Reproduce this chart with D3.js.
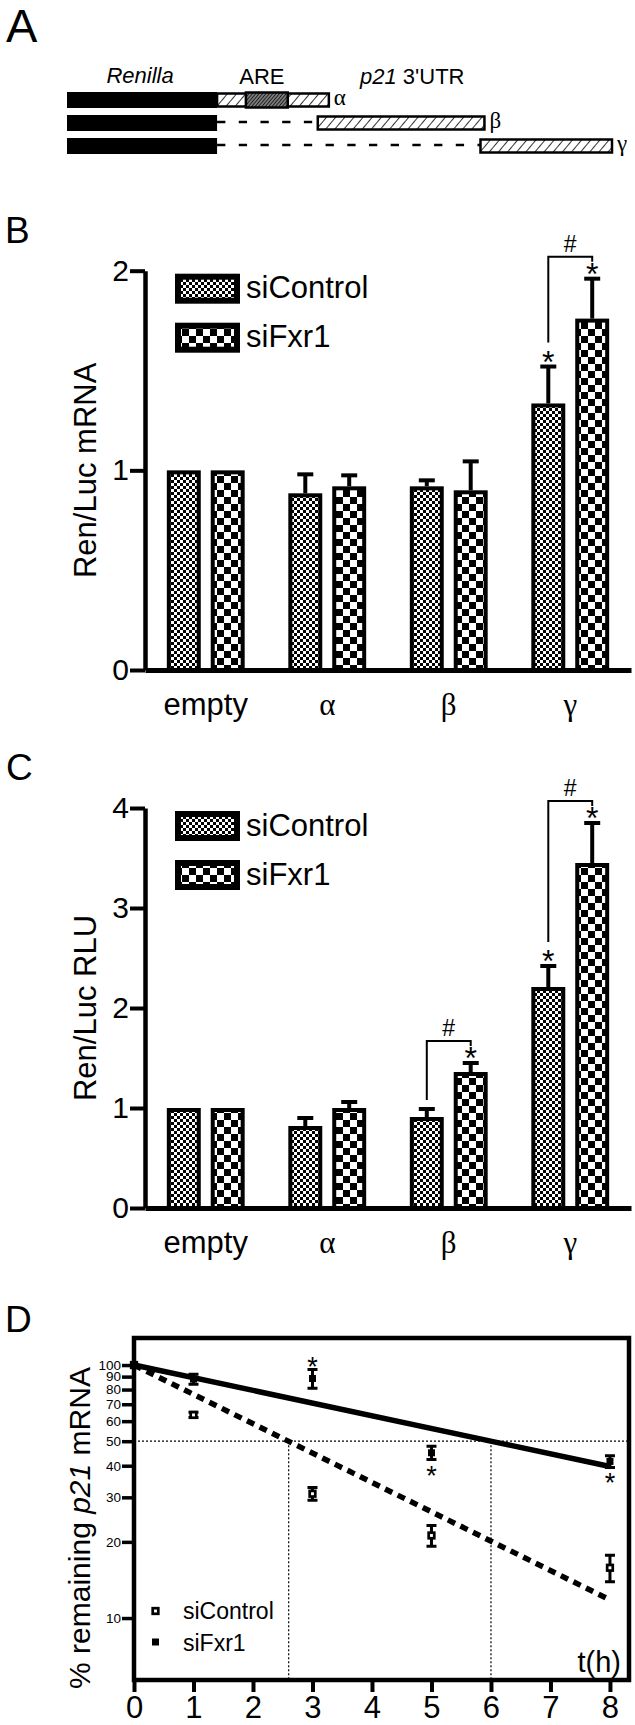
<!DOCTYPE html>
<html>
<head>
<meta charset="utf-8">
<title>p21 3'UTR reporters and mRNA decay</title>
<script src="https://cdn.jsdelivr.net/npm/d3@7"></script>
<style>
  body { margin: 0; background: #fff; }
  svg { display: block; background: #fff; }
</style>
</head>
<body>
<svg width="635" height="1725"></svg>
<script>
// ---------------- data ----------------
var categories = ["empty", "α", "β", "γ"];
var series = ["siControl", "siFxr1"];

// panel A: construct map (fraction of the p21 3'UTR; Renilla drawn left of 0)
var renillaSpan = [-0.38, 0];
var constructs = ["α", "β", "γ"];
var constructStart = [0, 0.255, 0.667];
var constructEnd = [0.283, 0.677, 1.0];
var areSpan = [0.073, 0.179];

// panel B: Ren/Luc mRNA
var mrnaTicks = [0, 1, 2];
var mrnaControl = [1.00, 0.885, 0.92, 1.335];
var mrnaControlSem = [0, 0.095, 0.03, 0.185];
var mrnaFxr1 = [1.00, 0.92, 0.90, 1.76];
var mrnaFxr1Sem = [0, 0.055, 0.145, 0.20];
var mrnaControlStar = [false, false, false, true];
var mrnaFxr1Star = [false, false, false, true];
var mrnaHash = [false, false, false, true];

// panel C: Ren/Luc RLU
var rluTicks = [0, 1, 2, 3, 4];
var rluControl = [1.00, 0.82, 0.91, 2.21];
var rluControlSem = [0, 0.08, 0.08, 0.21];
var rluFxr1 = [1.00, 1.00, 1.36, 3.45];
var rluFxr1Sem = [0, 0.06, 0.09, 0.40];
var rluControlStar = [false, false, false, true];
var rluFxr1Star = [false, false, true, true];
var rluHash = [false, false, true, true];

// panel D: % remaining p21 mRNA
var timePoints = [0, 1, 3, 5, 8];
var timeTicks = [0, 1, 2, 3, 4, 5, 6, 7, 8];
var decayTicks = [10, 20, 30, 40, 50, 60, 70, 80, 90, 100];
var decayControl = [100, 63.5, 31, 21.2, 15.8];
var decayControlSem = [0, 1.5, 1.8, 2, 1.9];
var decayFxr1 = [100, 88, 88.5, 45, 41.6];
var decayFxr1Sem = [0, 4, 7.5, 2.7, 2.2];
var decayFxr1Star = ["", "", "above", "below", "below"];
var fitControl = [[0, 100], [8, 11.8]];
var fitFxr1 = [[0, 100], [8, 39.7]];
var halfLives = [2.6, 6];

// ---------------- setup ----------------
var SANS = '"Liberation Sans", Arial, Helvetica, sans-serif';
var SERIF = '"Liberation Serif", "Times New Roman", serif';

var svg = d3.select("svg");
var defs = svg.append("defs");

function checker(id, cell)
{
    var p = defs.append("pattern").attr("id", id)
        .attr("patternUnits", "userSpaceOnUse")
        .attr("width", cell * 2).attr("height", cell * 2);
    p.append("rect").attr("width", cell * 2).attr("height", cell * 2).attr("fill", "#fff");
    p.append("rect").attr("x", cell).attr("width", cell).attr("height", cell).attr("fill", "#000");
    p.append("rect").attr("y", cell).attr("width", cell).attr("height", cell).attr("fill", "#000");
}

function hatch(id, gap, bg, fg, w)
{
    var p = defs.append("pattern").attr("id", id)
        .attr("patternUnits", "userSpaceOnUse")
        .attr("width", gap).attr("height", gap)
        .attr("patternTransform", "rotate(40)");
    p.append("rect").attr("width", gap).attr("height", gap).attr("fill", bg);
    p.append("line").attr("x1", gap / 2).attr("x2", gap / 2).attr("y1", -1).attr("y2", gap + 1)
        .attr("stroke", fg).attr("stroke-width", w);
}

checker("chkFine", 3);
checker("chkCoarse", 7);
hatch("hatchUtr", 7, "#fff", "#333", 1);
hatch("hatchAre", 2.6, "#8a8a8a", "#1a1a1a", 1.1);

var fills = { siControl: "url(#chkFine)", siFxr1: "url(#chkCoarse)" };

function txt(g, x, y, s, size, family)
{
    return g.append("text").attr("x", x).attr("y", y).text(s)
        .style("font-size", size + "px").style("font-family", family || SANS).attr("fill", "#000");
}

// panel letters
txt(svg, 6, 42, "A", 47);
txt(svg, 5, 243, "B", 37);
txt(svg, 6, 780, "C", 37);
txt(svg, 5, 1332, "D", 37);

// ---------------- panel A ----------------
(function ()
{
    var g = svg.append("g");
    var xA = d3.scaleLinear().domain([renillaSpan[0], 1]).range([67, 612]);
    var rowY = d3.scalePoint().domain(constructs).range([100, 146]);

    constructs.forEach(function (c, i)
    {
        var cy = rowY(c);
        g.append("rect").attr("x", xA(renillaSpan[0])).attr("y", cy - 8)
            .attr("width", xA(renillaSpan[1]) - xA(renillaSpan[0])).attr("height", 16).attr("fill", "#000");

        if (constructStart[i] > 0)
        {
            g.append("line").attr("x1", xA(0)).attr("x2", xA(constructStart[i]))
                .attr("y1", cy - 1).attr("y2", cy - 1)
                .attr("stroke", "#000").attr("stroke-width", 2.7).attr("stroke-dasharray", "8.3,13.4");
        }

        g.append("rect").attr("x", xA(constructStart[i])).attr("y", cy - 6.5)
            .attr("width", xA(constructEnd[i]) - xA(constructStart[i])).attr("height", 13)
            .attr("fill", "url(#hatchUtr)").attr("stroke", "#000").attr("stroke-width", 2.5);

        if (i === 0)
        {
            g.append("rect").attr("x", xA(areSpan[0])).attr("y", cy - 7.5)
                .attr("width", xA(areSpan[1]) - xA(areSpan[0])).attr("height", 15)
                .attr("fill", "url(#hatchAre)").attr("stroke", "#000").attr("stroke-width", 2.5);
        }

        txt(g, xA(constructEnd[i]) + 5, cy + 5, c, 23, SERIF);
    });

    txt(g, (xA(renillaSpan[0]) + xA(renillaSpan[1])) / 2 - 2, 83, "Renilla", 22)
        .attr("text-anchor", "middle").style("font-style", "italic");
    txt(g, (xA(areSpan[0]) + xA(areSpan[1])) / 2 - 5, 84, "ARE", 22).attr("text-anchor", "middle");
    var t = txt(g, 360, 84, "", 22);
    t.append("tspan").text("p21").style("font-style", "italic");
    t.append("tspan").text(" 3'UTR");
})();

// ---------------- panels B and C ----------------
function barPanel(cfg)
{
    var g = svg.append("g");
    var y = d3.scaleLinear().domain([0, cfg.max]).range([cfg.y0, cfg.yTop]);
    var x = d3.scaleBand().domain(categories).range([145, 631]);
    var xs = d3.scaleBand().domain(series).range([0, x.bandwidth()])
        .paddingInner(0.227).paddingOuter(0.497);
    var bw = xs.bandwidth();

    var vals = { siControl: cfg.control, siFxr1: cfg.fxr1 };
    var sems = { siControl: cfg.controlSem, siFxr1: cfg.fxr1Sem };
    var stars = { siControl: cfg.controlStar, siFxr1: cfg.fxr1Star };

    var rows = [];
    categories.forEach(function (c, i)
    {
        series.forEach(function (s)
        {
            rows.push({ c: c, s: s, v: vals[s][i], e: sems[s][i], star: stars[s][i],
                cx: x(c) + xs(s) + bw / 2 });
        });
    });

    // error bars (upper half only, drawn behind the bars)
    var eb = g.append("g").attr("stroke", "#000").attr("stroke-width", 4);
    rows.filter(function (d) { return d.e > 0; }).forEach(function (d)
    {
        eb.append("line").attr("x1", d.cx).attr("x2", d.cx).attr("y1", y(d.v)).attr("y2", y(d.v + d.e));
        eb.append("line").attr("x1", d.cx - 8).attr("x2", d.cx + 8).attr("y1", y(d.v + d.e)).attr("y2", y(d.v + d.e));
    });

    g.selectAll("rect.bar").data(rows).join("rect")
        .attr("class", "bar")
        .attr("x", function (d) { return x(d.c) + xs(d.s) + 2; })
        .attr("y", function (d) { return y(d.v) + 2; })
        .attr("width", bw - 4)
        .attr("height", function (d) { return y(0) - y(d.v) - 2; })
        .attr("fill", function (d) { return fills[d.s]; })
        .attr("stroke", "#000").attr("stroke-width", 4);

    // significance stars
    rows.filter(function (d) { return d.star; }).forEach(function (d)
    {
        txt(g, d.cx, y(d.v + d.e) + 6, "*", 32).attr("text-anchor", "middle");
    });

    // brackets
    categories.forEach(function (c, i)
    {
        if (!cfg.hash[i]) return;
        var xc = x(c) + xs("siControl") + bw / 2;
        var xf = x(c) + xs("siFxr1") + bw / 2;
        var topC = y(cfg.control[i] + cfg.controlSem[i]);
        var topF = y(cfg.fxr1[i] + cfg.fxr1Sem[i]);
        var hy = topF - 22;
        var legBottom = topC - (cfg.controlStar[i] ? 24 : 9);
        g.append("path")
            .attr("d", "M" + xc + "," + legBottom + "V" + hy + "H" + xf + "V" + (hy + 5))
            .attr("fill", "none").attr("stroke", "#000").attr("stroke-width", 2);
        txt(g, (xc + xf) / 2, hy - 5, "#", 23).attr("text-anchor", "middle");
    });

    // axes
    var yAxis = g.append("g").attr("transform", "translate(145,0)")
        .call(d3.axisLeft(y).tickValues(cfg.ticks).tickFormat(d3.format("d"))
            .tickSize(15).tickSizeOuter(0).tickPadding(1));
    yAxis.select(".domain").attr("stroke-width", 4.5);
    yAxis.selectAll(".tick line").attr("stroke-width", 4);
    yAxis.selectAll(".tick text").style("font-size", "30px").style("font-family", SANS);

    var xAxis = g.append("g").attr("transform", "translate(0," + cfg.y0 + ")")
        .call(d3.axisBottom(x).tickSize(0).tickSizeOuter(0));
    xAxis.select(".domain").attr("stroke-width", 5);
    xAxis.selectAll(".tick text").attr("y", 45).attr("dy", null)
        .style("font-size", "31px")
        .style("font-family", function (d) { return d === "empty" ? SANS : SERIF; });

    // legend
    series.forEach(function (s, k)
    {
        var top = cfg.yTop + 3 + k * 49;
        g.append("rect").attr("x", 178).attr("y", top + 3).attr("width", 59).attr("height", 24)
            .attr("fill", fills[s]).attr("stroke", "#000").attr("stroke-width", 6);
        txt(g, 246, top + 24.5, s, 31);
    });

    // y label
    txt(g, 0, 0, cfg.label, 31).attr("text-anchor", "middle")
        .attr("transform", "translate(96," + (cfg.y0 + cfg.yTop) / 2 + ") rotate(-90)");
}

barPanel({
    y0: 670, yTop: 270.7, max: 2, ticks: mrnaTicks, label: "Ren/Luc mRNA",
    control: mrnaControl, controlSem: mrnaControlSem, fxr1: mrnaFxr1, fxr1Sem: mrnaFxr1Sem,
    controlStar: mrnaControlStar, fxr1Star: mrnaFxr1Star, hash: mrnaHash
});

barPanel({
    y0: 1208, yTop: 808, max: 4, ticks: rluTicks, label: "Ren/Luc RLU",
    control: rluControl, controlSem: rluControlSem, fxr1: rluFxr1, fxr1Sem: rluFxr1Sem,
    controlStar: rluControlStar, fxr1Star: rluFxr1Star, hash: rluHash
});

// ---------------- panel D ----------------
(function ()
{
    var g = svg.append("g");
    var xD = d3.scaleLinear().domain([0, 8.32]).range([134, 629]);
    var yD = d3.scaleLog().domain([5.69, 127.9]).range([1680, 1338]);

    // half-life guides
    var guides = g.append("g").attr("stroke", "#000").attr("stroke-width", 1.2).attr("stroke-dasharray", "2,2");
    guides.append("line").attr("x1", xD(0)).attr("x2", xD(8.32)).attr("y1", yD(50)).attr("y2", yD(50));
    halfLives.forEach(function (h)
    {
        guides.append("line").attr("x1", xD(h)).attr("x2", xD(h)).attr("y1", yD(50)).attr("y2", yD.range()[0]);
    });

    var line = d3.line().x(function (d) { return xD(d[0]); }).y(function (d) { return yD(d[1]); });
    g.append("path").datum(fitFxr1).attr("d", line)
        .attr("fill", "none").attr("stroke", "#000").attr("stroke-width", 5.5);
    g.append("path").datum(fitControl).attr("d", line)
        .attr("fill", "none").attr("stroke", "#000").attr("stroke-width", 5.5).attr("stroke-dasharray", "8,6");

    function points(vals, sems, open)
    {
        var pg = g.append("g");
        timePoints.forEach(function (t, i)
        {
            var cx = xD(t), e = sems[i];
            if (e > 0)
            {
                var y1 = yD(vals[i] + e), y2 = yD(vals[i] - e);
                pg.append("path")
                    .attr("d", "M" + cx + "," + y1 + "V" + y2 + "M" + (cx - 5) + "," + y1 + "H" + (cx + 5) + "M" + (cx - 5) + "," + y2 + "H" + (cx + 5))
                    .attr("fill", "none").attr("stroke", "#000").attr("stroke-width", 3);
            }
            if (open)
            {
                pg.append("rect").attr("x", cx - 2.8).attr("y", yD(vals[i]) - 2.8).attr("width", 5.6).attr("height", 5.6)
                    .attr("fill", "#fff").attr("stroke", "#000").attr("stroke-width", 2.7);
            }
            else
            {
                pg.append("rect").attr("x", cx - 3.5).attr("y", yD(vals[i]) - 3.5).attr("width", 7).attr("height", 7)
                    .attr("fill", "#000");
            }
        });
    }
    points(decayControl, decayControlSem, true);
    points(decayFxr1, decayFxr1Sem, false);

    // stars for siFxr1
    timePoints.forEach(function (t, i)
    {
        var where = decayFxr1Star[i];
        if (!where) return;
        var cy = where === "above" ? yD(decayFxr1[i] + decayFxr1Sem[i]) - 9 : yD(decayFxr1[i] - decayFxr1Sem[i]) + 10;
        txt(g, xD(t), cy + 15, "*", 27).attr("text-anchor", "middle");
    });

    // frame
    g.append("rect").attr("x", xD(0)).attr("y", yD.range()[1])
        .attr("width", xD(8.32) - xD(0)).attr("height", yD.range()[0] - yD.range()[1])
        .attr("fill", "none").attr("stroke", "#000").attr("stroke-width", 4.5);

    var yAxis = g.append("g").attr("transform", "translate(" + xD(0) + ",0)")
        .call(d3.axisLeft(yD).tickValues(decayTicks).tickFormat(d3.format("d")).tickSize(12).tickPadding(1));
    yAxis.select(".domain").remove();
    yAxis.selectAll(".tick line").attr("stroke-width", 3.5);
    yAxis.selectAll(".tick text").style("font-size", "13.5px").style("font-family", SANS);

    var xAxis = g.append("g").attr("transform", "translate(0," + yD.range()[0] + ")")
        .call(d3.axisBottom(xD).tickValues(timeTicks).tickFormat(d3.format("d")).tickSize(12));
    xAxis.select(".domain").remove();
    xAxis.selectAll(".tick line").attr("stroke-width", 4);
    xAxis.selectAll(".tick text").attr("y", 38).attr("dy", null)
        .style("font-size", "31px").style("font-family", SANS);

    // legend
    g.append("rect").attr("x", 155.5 - 2.8).attr("y", 1611 - 2.8).attr("width", 5.6).attr("height", 5.6)
        .attr("fill", "#fff").attr("stroke", "#000").attr("stroke-width", 2.7);
    g.append("rect").attr("x", 155.5 - 3.5).attr("y", 1642 - 3.5).attr("width", 7).attr("height", 7).attr("fill", "#000");
    txt(g, 183, 1619, "siControl", 23);
    txt(g, 183, 1651, "siFxr1", 23);

    txt(g, 621, 1672, "t(h)", 29).attr("text-anchor", "end");

    var yl = txt(g, 0, 0, "", 30).attr("text-anchor", "middle")
        .attr("transform", "translate(90,1528) rotate(-90)");
    yl.append("tspan").text("% remaining ");
    yl.append("tspan").text("p21").style("font-style", "italic");
    yl.append("tspan").text(" mRNA");
})();
</script>
</body>
</html>
